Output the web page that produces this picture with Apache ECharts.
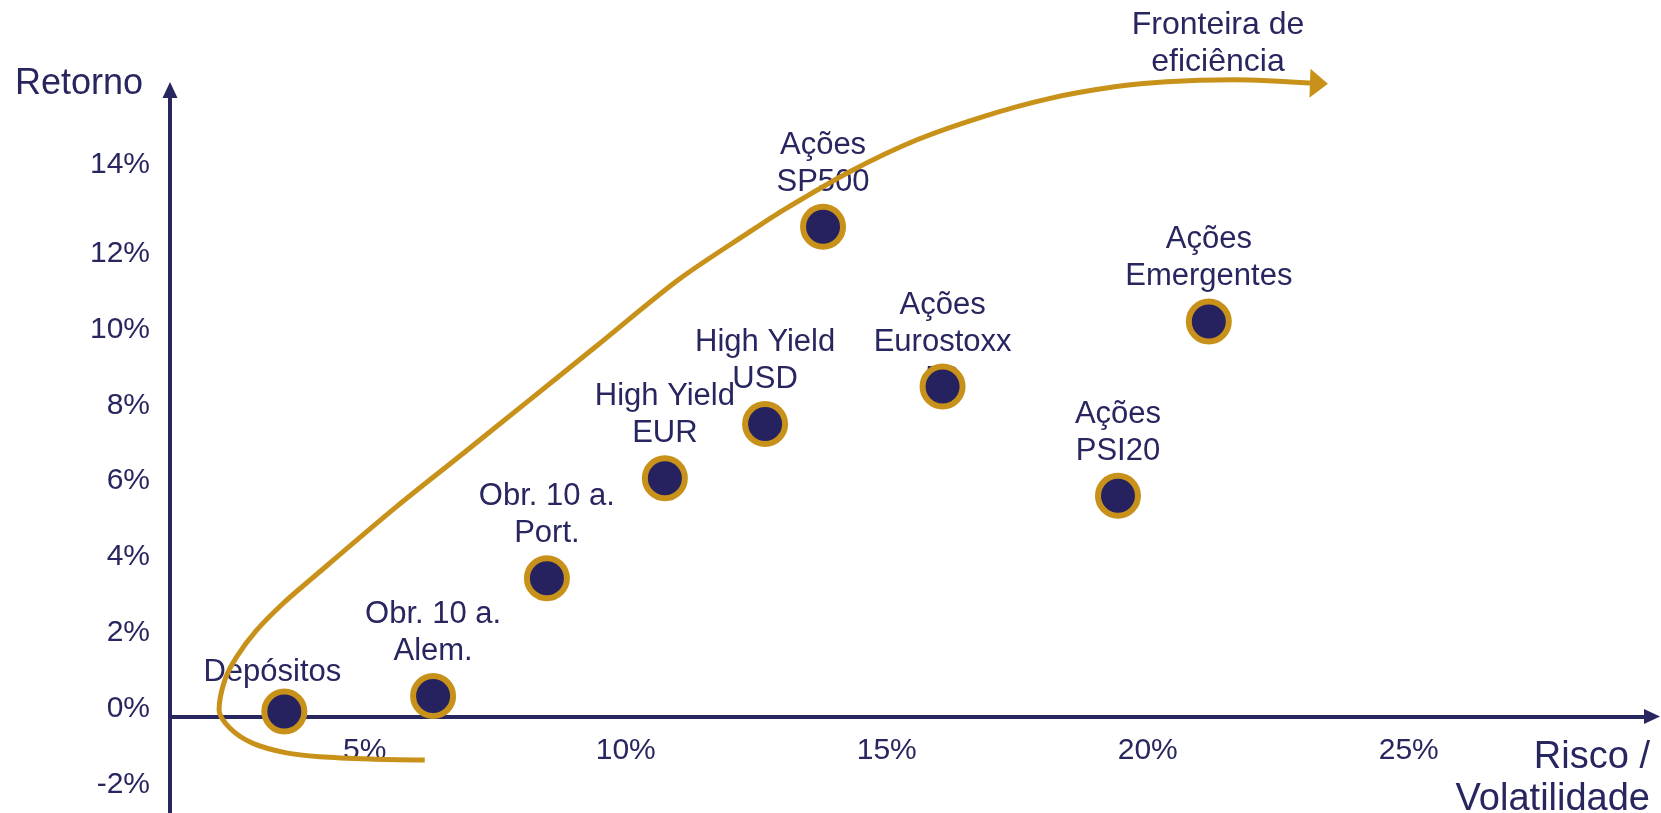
<!DOCTYPE html>
<html>
<head>
<meta charset="utf-8">
<title>Fronteira de eficiência</title>
<script src="https://cdn.jsdelivr.net/npm/echarts@6/dist/echarts.min.js"></script>
<style>
  html, body { margin: 0; padding: 0; background: #ffffff; }
  #chart { width: 1661px; height: 813px; }
</style>
</head>
<body>
<div id="chart"></div>
<script>
// Asset classes: risk (volatility, %) and return (%)
const assetNames = [
  'Depósitos',
  'Obr. 10 a.\nAlem.',
  'Obr. 10 a.\nPort.',
  'High Yield\nEUR',
  'High Yield\nUSD',
  'Ações\nSP500',
  'Ações\nEurostoxx\n50',
  'Ações\nPSI20',
  'Ações\nEmergentes'
];
const assetRisk   = [3.46, 6.31, 8.49, 10.75, 12.67, 13.78, 16.07, 19.43, 21.17];
const assetReturn = [0.13, 0.54, 3.65, 6.29, 7.72, 12.93, 8.71, 5.83, 10.43];

// Efficient frontier sketch, traced from its lower tail up to the arrow
const frontierRisk = [6.15, 5.10, 4.14, 3.50, 2.86, 2.42, 2.21, 2.32, 2.55, 2.93, 3.44, 3.95,
  5.61, 6.89, 8.16, 9.44, 11.01, 12.38, 13.02, 14.30, 15.57, 16.85, 18.13, 19.40, 20.36, 21.64, 23.28];
const frontierReturn = [-1.15, -1.12, -1.06, -0.96, -0.71, -0.31, 0.17, 0.96, 1.58, 2.28, 2.99, 3.60,
  5.54, 6.95, 8.36, 9.78, 11.53, 12.80, 13.37, 14.39, 15.22, 15.84, 16.32, 16.63, 16.76, 16.81, 16.71];

// Tick labels
const riskTicks = [5, 10, 15, 20, 25];
const returnTicks = [-2, 0, 2, 4, 6, 8, 10, 12, 14];

const NAVY = '#28265f';
const GOLD = '#c8921a';
const FONT = '"Liberation Sans", Arial, Helvetica, sans-serif';

// the single-line deposit label sits a little lower and to the left
const labelNudge = { 'Depósitos': [-12, 5] };

const assetData = assetNames.map((n, i) => [assetRisk[i], assetReturn[i], n]);
const frontierData = frontierRisk.map((x, i) => [x, frontierReturn[i]]);
const frontierEnd = frontierData[frontierData.length - 1];

// Labels with a third line keep their first two lines above the marker
const labelData = assetData.map(d => {
  const lines = d[2].split('\n').length;
  const item = { value: d };
  if (lines > 2) item.label = { offset: [0, 37 * (lines - 2)] };
  if (labelNudge[d[2]]) item.label = { offset: labelNudge[d[2]] };
  return item;
});

const xRange = { min: 1.27, max: 29.66 };
// pixel distance from the bottom of the plot up to the zero-return line
const zeroLineFromBottom = 96.5;

const chart = echarts.init(document.getElementById('chart'), null, { renderer: 'canvas' });

chart.setOption({
  animation: false,
  backgroundColor: '#ffffff',
  textStyle: { fontFamily: FONT },
  grid: { left: 170, right: 9, top: 90, bottom: 0, outerBoundsMode: 'none' },
  xAxis: [
    {
      type: 'value',
      min: xRange.min,
      max: xRange.max,
      axisLine: {
        show: true,
        onZero: true,
        symbol: ['none', 'triangle'],
        symbolSize: [15, 16],
        lineStyle: { color: NAVY, width: 4 }
      },
      axisTick: { show: false },
      splitLine: { show: false },
      axisLabel: { show: false }
    },
    {
      // carries the risk tick labels just under the zero-return line
      type: 'value',
      position: 'bottom',
      offset: -zeroLineFromBottom,
      min: xRange.min,
      max: xRange.max,
      axisLine: { show: false, onZero: false },
      axisTick: { show: false },
      splitLine: { show: false },
      axisLabel: {
        show: true,
        customValues: riskTicks,
        formatter: v => v + '%',
        color: NAVY,
        fontSize: 30,
        fontFamily: FONT,
        margin: 19
      }
    }
  ],
  yAxis: {
    type: 'value',
    min: -2.548,
    max: 16.54,
    axisLine: {
      show: true,
      symbol: ['none', 'triangle'],
      symbolSize: [15, 16],
      lineStyle: { color: NAVY, width: 4 }
    },
    axisTick: { show: false },
    splitLine: { show: false },
    axisLabel: {
      customValues: returnTicks,
      formatter: v => (v === 14 ? '{hi|' + v + '%}' : v + '%'),
      color: NAVY,
      fontSize: 30,
      fontFamily: FONT,
      margin: 20,
      padding: [0, 0, 16, 0],
      rich: {
        hi: { fontSize: 30, fontFamily: FONT, color: NAVY, padding: [0, 0, 27, 0] }
      }
    }
  },
  series: [
    {
      // asset names, sitting beneath the frontier and the markers
      type: 'scatter',
      z: 1,
      silent: true,
      symbolSize: 40,
      itemStyle: { color: 'rgba(0,0,0,0)', opacity: 1 },
      data: labelData,
      label: {
        show: true,
        position: 'top',
        distance: 6,
        formatter: p => p.value[2],
        color: NAVY,
        opacity: 1,
        fontSize: 31,
        lineHeight: 37,
        fontFamily: FONT,
        align: 'center'
      }
    },
    {
      type: 'line',
      z: 2,
      silent: true,
      clip: false,
      smooth: 0.3,
      showSymbol: false,
      data: frontierData,
      lineStyle: { color: GOLD, width: 5 }
    },
    {
      // arrowhead at the open end of the frontier
      type: 'scatter',
      z: 2,
      silent: true,
      clip: false,
      symbol: 'triangle',
      symbolSize: [29, 18],
      symbolRotate: -92,
      itemStyle: { color: GOLD, opacity: 1 },
      data: [frontierEnd]
    },
    {
      type: 'scatter',
      z: 3,
      silent: true,
      symbolSize: 40,
      data: assetData,
      itemStyle: { color: '#262260', borderColor: GOLD, borderWidth: 6, opacity: 1 }
    }
  ],
  graphic: [
    {
      type: 'text',
      x: 79, y: 84,
      style: {
        text: 'Retorno',
        fill: NAVY,
        font: '36px ' + FONT,
        textAlign: 'center',
        textVerticalAlign: 'middle'
      }
    },
    {
      type: 'text',
      x: 1650, y: 737,
      style: {
        text: 'Risco /\nVolatilidade',
        fill: NAVY,
        font: '38px ' + FONT,
        lineHeight: 42,
        textAlign: 'right',
        textVerticalAlign: 'top'
      }
    },
    {
      type: 'text',
      x: 1218, y: 7,
      style: {
        text: 'Fronteira de\neficiência',
        fill: NAVY,
        font: '32px ' + FONT,
        lineHeight: 37,
        textAlign: 'center',
        textVerticalAlign: 'top'
      }
    }
  ]
});
</script>
</body>
</html>
